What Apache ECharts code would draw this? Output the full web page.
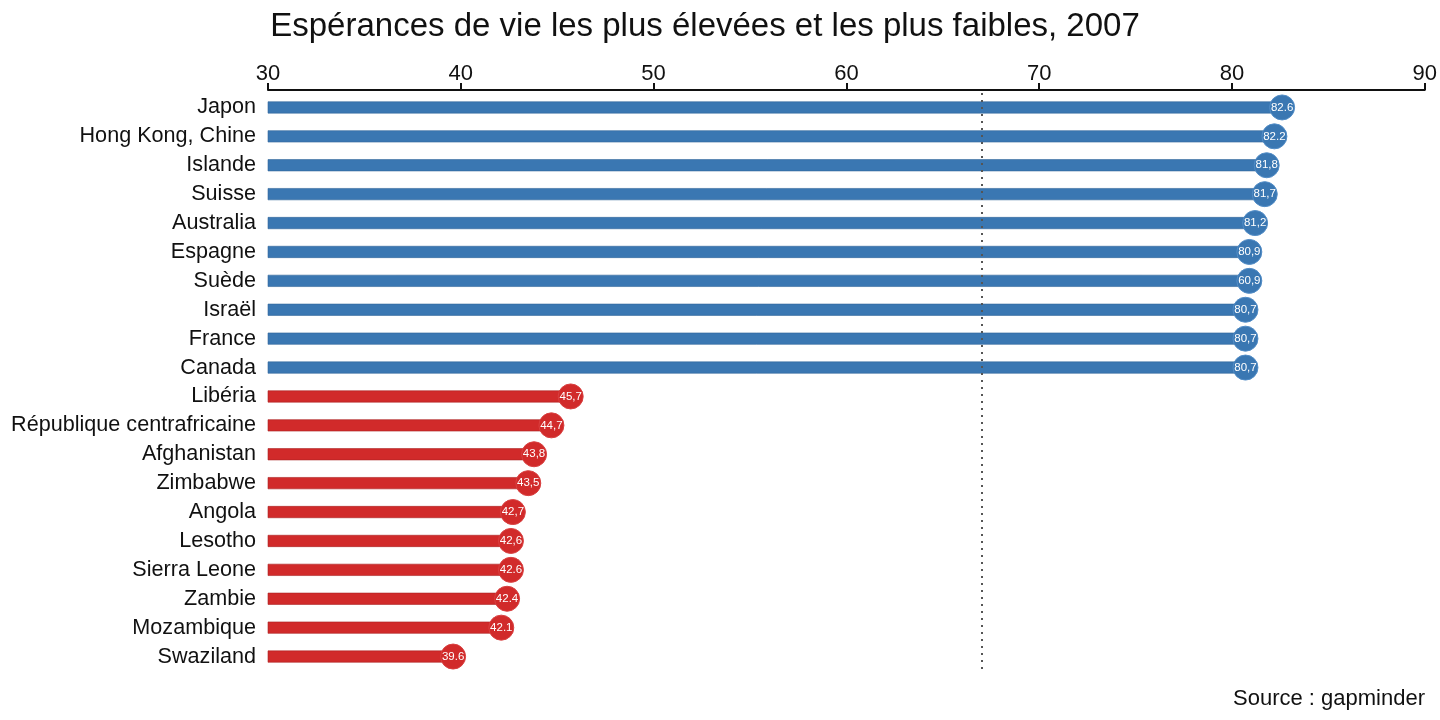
<!DOCTYPE html>
<html>
<head>
<meta charset="utf-8">
<title>Espérances de vie 2007</title>
<script src="https://cdn.jsdelivr.net/npm/echarts@6/dist/echarts.min.js"></script>
<style>
  html, body { margin: 0; padding: 0; background: #fff; }
  #main { width: 1440px; height: 720px; }
</style>
</head>
<body>
<div id="main"></div>
<script>
// pays avec l'espérance de vie la plus élevée
var paysHaut = ['Japon', 'Hong Kong, Chine', 'Islande', 'Suisse', 'Australia',
    'Espagne', 'Suède', 'Israël', 'France', 'Canada'];
var valeursHaut = [82.6, 82.2, 81.8, 81.7, 81.2, 80.9, 80.9, 80.7, 80.7, 80.7];
var etiquettesHaut = ['82.6', '82.2', '81,8', '81,7', '81,2', '80,9', '60,9', '80,7', '80,7', '80,7'];

// pays avec l'espérance de vie la plus faible
var paysBas = ['Libéria', 'République centrafricaine', 'Afghanistan', 'Zimbabwe', 'Angola',
    'Lesotho', 'Sierra Leone', 'Zambie', 'Mozambique', 'Swaziland'];
var valeursBas = [45.7, 44.7, 43.8, 43.5, 42.7, 42.6, 42.6, 42.4, 42.1, 39.6];
var etiquettesBas = ['45,7', '44,7', '43,8', '43,5', '42,7', '42,6', '42.6', '42.4', '42.1', '39.6'];

var moyenneMonde = 67;
var ticksX = [30, 40, 50, 60, 70, 80, 90];

var bleu = '#3a77b2';
var rouge = '#d12a2a';

var pays = paysHaut.concat(paysBas);
var valeurs = valeursHaut.concat(valeursBas);
var etiquettes = etiquettesHaut.concat(etiquettesBas);
var couleur = function (i) { return i < paysHaut.length ? bleu : rouge; };

var chart = echarts.init(document.getElementById('main'));

var option = {
    backgroundColor: '#fff',
    animation: false,
    textStyle: { fontFamily: 'Liberation Sans, Arial, sans-serif' },
    title: [{
        text: 'Espérances de vie les plus élevées et les plus faibles, 2007',
        left: 700,
        textAlign: 'center',
        top: 5,
        textStyle: { fontSize: 33, fontWeight: 'normal', color: '#111' }
    }, {
        text: 'Source : gapminder',
        right: 10,
        top: 683,
        textStyle: { fontSize: 22, fontWeight: 'normal', color: '#111' }
    }],
    grid: { left: 268, right: 14, top: 93, bottom: 49 },
    xAxis: {
        type: 'value',
        position: 'top',
        min: ticksX[0],
        max: ticksX[ticksX.length - 1],
        interval: 10,
        offset: 3,
        axisLine: { show: true, lineStyle: { color: '#111', width: 2 } },
        axisTick: { show: true, length: 7, lineStyle: { color: '#111', width: 2 } },
        axisLabel: { fontSize: 22, color: '#111', margin: 5 },
        splitLine: { show: false }
    },
    yAxis: {
        type: 'category',
        inverse: true,
        data: pays,
        axisLine: { show: false },
        axisTick: { show: false },
        axisLabel: { fontSize: 21.6, color: '#111', margin: 12, padding: [3, 0, 0, 0] }
    },
    series: [{
        type: 'bar',
        barWidth: 12,
        data: valeurs.map(function (v, i) {
            return {
                value: v,
                itemStyle: { color: couleur(i), borderColor: echarts.color.modifyHSL(couleur(i), null, null, 0.4), borderWidth: 0.6 }
            };
        }),
        markLine: {
            silent: true,
            symbol: 'none',
            label: { show: false },
            lineStyle: { color: '#555', type: [2, 5], width: 2 },
            data: [{ xAxis: moyenneMonde }]
        },
        z: 2
    }, {
        type: 'scatter',
        symbol: 'circle',
        symbolSize: 25,
        data: valeurs.map(function (v, i) {
            return {
                value: [v, pays[i]],
                itemStyle: { color: couleur(i), opacity: 1, borderColor: echarts.color.modifyHSL(couleur(i), null, null, 0.55), borderWidth: 1 }
            };
        }),
        label: {
            show: true,
            position: 'inside',
            color: '#fff',
            fontSize: 11.5,
            formatter: function (p) { return etiquettes[p.dataIndex]; }
        },
        z: 3
    }]
};

chart.setOption(option);
</script>
</body>
</html>
